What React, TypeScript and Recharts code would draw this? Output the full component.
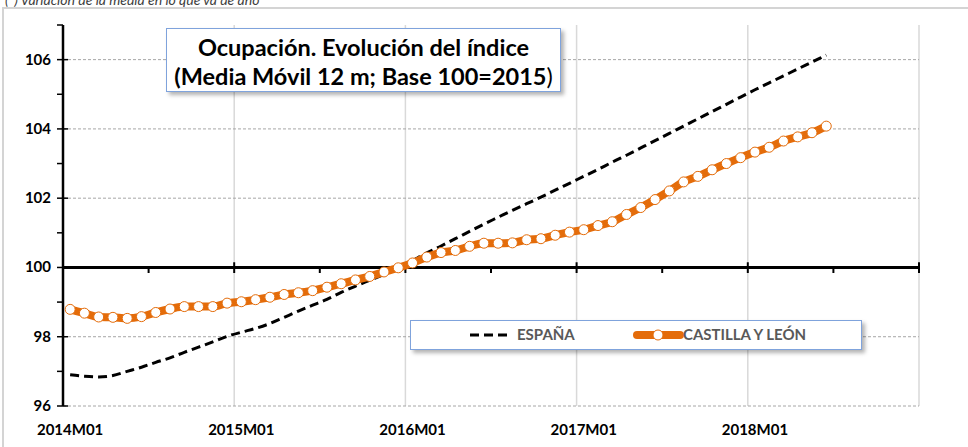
import { Legend, Line, LineChart, ReferenceLine, XAxis, YAxis } from 'recharts';

const months = [
  '2014M01', '2014M02', '2014M03', '2014M04', '2014M05', '2014M06', '2014M07', '2014M08', '2014M09', '2014M10', '2014M11', '2014M12',
  '2015M01', '2015M02', '2015M03', '2015M04', '2015M05', '2015M06', '2015M07', '2015M08', '2015M09', '2015M10', '2015M11', '2015M12',
  '2016M01', '2016M02', '2016M03', '2016M04', '2016M05', '2016M06', '2016M07', '2016M08', '2016M09', '2016M10', '2016M11', '2016M12',
  '2017M01', '2017M02', '2017M03', '2017M04', '2017M05', '2017M06', '2017M07', '2017M08', '2017M09', '2017M10', '2017M11', '2017M12',
  '2018M01', '2018M02', '2018M03', '2018M04', '2018M05', '2018M06',
];

const espana = [
  96.9, 96.86, 96.84, 96.88, 97.0, 97.12, 97.26, 97.39, 97.55, 97.7, 97.85, 98.01,
  98.13, 98.24, 98.38, 98.56, 98.74, 98.91, 99.08, 99.28, 99.46, 99.63, 99.8, 99.98,
  100.2, 100.42, 100.62, 100.83, 101.04, 101.25, 101.45, 101.65, 101.84, 102.03, 102.23, 102.43,
  102.63, 102.83, 103.04, 103.24, 103.45, 103.66, 103.87, 104.08, 104.29, 104.5, 104.71, 104.92,
  105.13, 105.33, 105.53, 105.73, 105.93, 106.13,
];

const castillaLeon = [
  98.79, 98.68, 98.57, 98.56, 98.53, 98.58, 98.7, 98.8, 98.87, 98.87, 98.87, 98.97,
  99.01, 99.07, 99.14, 99.22, 99.27, 99.33, 99.43, 99.53, 99.64, 99.74, 99.87, 99.99,
  100.13, 100.3, 100.43, 100.49, 100.61, 100.7, 100.7, 100.71, 100.8, 100.83, 100.93, 101.02,
  101.09, 101.21, 101.32, 101.53, 101.73, 101.96, 102.21, 102.47, 102.63, 102.82, 103.0, 103.17,
  103.33, 103.47, 103.65, 103.77, 103.89, 104.08,
];

// x axis runs 2014M01..2018M12 (60 months), labels on every January
const xTickIdx = [0, 12, 24, 36, 48];
const xTickLabels = ['2014M01', '2015M01', '2016M01', '2017M01', '2018M01'];
const yTicks = [96, 97, 98, 99, 100, 101, 102, 103, 104, 105, 106, 107];
const yGrid = [96, 98, 102, 104, 106];
const yearBounds = [11.5, 23.5, 35.5, 47.5, 59.5];
const halfYearBounds = [5.5, 17.5, 29.5, 41.5, 53.5];

const data = months.map((m, i) => ({ i, month: m, esp: espana[i], cyl: castillaLeon[i] }));

const ORANGE = '#E46C0A';
const FONT = 'Lato, "Open Sans", sans-serif';

const YTick = (props: any) => {
  const { x, y, payload } = props;
  const major = payload.value % 2 === 0;
  return (
    <g>
      <line x1={x - 6} x2={major ? x + 5 : x} y1={y} y2={y} stroke="#000" strokeWidth={1.5} />
      {major && (
        <text x={x - 12} y={y} dy={5} textAnchor="end" fontSize={15} fontWeight={700} fontFamily={FONT} fill="#000">
          {payload.value}
        </text>
      )}
    </g>
  );
};

const XTick = (props: any) => {
  const { x, y, payload } = props;
  const k = xTickIdx.indexOf(payload.value);
  return (
    <text x={x} y={y} dy={29} textAnchor="middle" fontSize={15} fontWeight={700} fontFamily={FONT} fill="#000">
      {k >= 0 ? xTickLabels[k] : ''}
    </text>
  );
};

const LegendBox = () => (
  <div
    style={{
      position: 'relative',
      width: 452,
      height: 30,
      boxSizing: 'border-box',
      border: '1.5px solid #7FA3DC',
      background: '#fff',
      boxShadow: '3px 3px 4px rgba(0,0,0,0.3)',
      fontFamily: FONT,
      fontSize: 15,
      fontWeight: 700,
      color: '#595959',
    }}
  >
    <svg width={452} height={30} style={{ position: 'absolute', left: 0, top: 0 }}>
      <line x1={59} x2={99} y1={14} y2={14} stroke="#000" strokeWidth={3} strokeDasharray="9 5" />
      <line x1={226} x2={269} y1={14} y2={14} stroke={ORANGE} strokeWidth={8} strokeLinecap="round" />
      <circle cx={247} cy={14} r={5} fill="#fff" stroke={ORANGE} strokeWidth={1} />
    </svg>
    <span style={{ position: 'absolute', left: 106, top: 4 }}>ESPAÑA</span>
    <span style={{ position: 'absolute', left: 272, top: 4 }}>CASTILLA Y LEÓN</span>
  </div>
);

export default function App() {
  return (
    <div style={{ position: 'absolute', left: 0, top: 0, width: 968, height: 447, overflow: 'hidden', background: '#fff' }}>
      <div
        style={{
          position: 'absolute',
          left: 5,
          top: -8,
          fontFamily: FONT,
          fontStyle: 'italic',
          fontSize: 14,
          lineHeight: '16px',
          color: '#404040',
          whiteSpace: 'nowrap',
        }}
      >
        (*) Variación de la media en lo que va de año
      </div>
      <div
        style={{
          position: 'absolute',
          left: 2,
          top: 7,
          width: 1000,
          height: 500,
          border: '2px solid #d4d4d4',
        }}
      />
      <div style={{ position: 'absolute', left: 0, top: 0 }}>
        <LineChart width={968} height={447} data={data} margin={{ top: 25, right: 49, bottom: 0, left: 0 }}>
          {yearBounds.map((b) => (
            <ReferenceLine key={'v' + b} x={b} stroke="#d9d9d9" strokeWidth={1.5} />
          ))}
          {yGrid.map((v) => (
            <ReferenceLine key={'h' + v} y={v} stroke="#a6a6a6" strokeDasharray="3 2" strokeWidth={1} />
          ))}
          <XAxis
            dataKey="i"
            type="number"
            domain={[-0.5, 59.5]}
            ticks={xTickIdx}
            interval={0}
            axisLine={false}
            tickLine={false}
            tickSize={0}
            tickMargin={0}
            height={41}
            tick={<XTick />}
          />
          <YAxis
            domain={[96, 107]}
            ticks={yTicks}
            interval={0}
            width={63}
            axisLine={{ stroke: '#000', strokeWidth: 2.5 }}
            tickLine={false}
            tickSize={0}
            tickMargin={0}
            tick={<YTick />}
          />
          <ReferenceLine y={100} stroke="#000" strokeWidth={3} />
          {yearBounds.map((b) => (
            <ReferenceLine
              key={'mt' + b}
              segment={[{ x: b, y: 99.84 }, { x: b, y: 100.15 }]}
              stroke="#000"
              strokeWidth={2}
            />
          ))}
          {halfYearBounds.map((b) => (
            <ReferenceLine
              key={'mn' + b}
              segment={[{ x: b, y: 99.84 }, { x: b, y: 100 }]}
              stroke="#000"
              strokeWidth={2}
            />
          ))}
          <Line
            dataKey="esp"
            name="ESPAÑA"
            type="monotone"
            stroke="#000"
            strokeWidth={3}
            strokeDasharray="9 5"
            dot={false}
            isAnimationActive={false}
          />
          <Line
            dataKey="cyl"
            name="CASTILLA Y LEÓN"
            type="monotone"
            stroke={ORANGE}
            strokeWidth={8}
            dot={{ r: 5, fill: '#fff', stroke: ORANGE, strokeWidth: 1 }}
            isAnimationActive={false}
          />
          <Legend
            layout="vertical"
            align="center"
            verticalAlign="middle"
            content={<LegendBox />}
            wrapperStyle={{ left: 410, top: 320, width: 452, bottom: 'auto', right: 'auto' }}
          />
        </LineChart>
      </div>
      <div
        style={{
          position: 'absolute',
          left: 166,
          top: 28,
          width: 395,
          height: 64,
          boxSizing: 'border-box',
          border: '1.5px solid #7FA3DC',
          background: '#fff',
          boxShadow: '3px 3px 4px rgba(0,0,0,0.3)',
          fontFamily: FONT,
          fontSize: 23.5,
          fontWeight: 700,
          lineHeight: '29px',
          paddingTop: 4,
          textAlign: 'center',
          color: '#000',
          whiteSpace: 'nowrap',
        }}
      >
        <div>Ocupación. Evolución del índice</div>
        <div>
          (Media Móvil 12 m; Base 100=2015<span style={{ fontWeight: 400 }}>)</span>
        </div>
      </div>
    </div>
  );
}
